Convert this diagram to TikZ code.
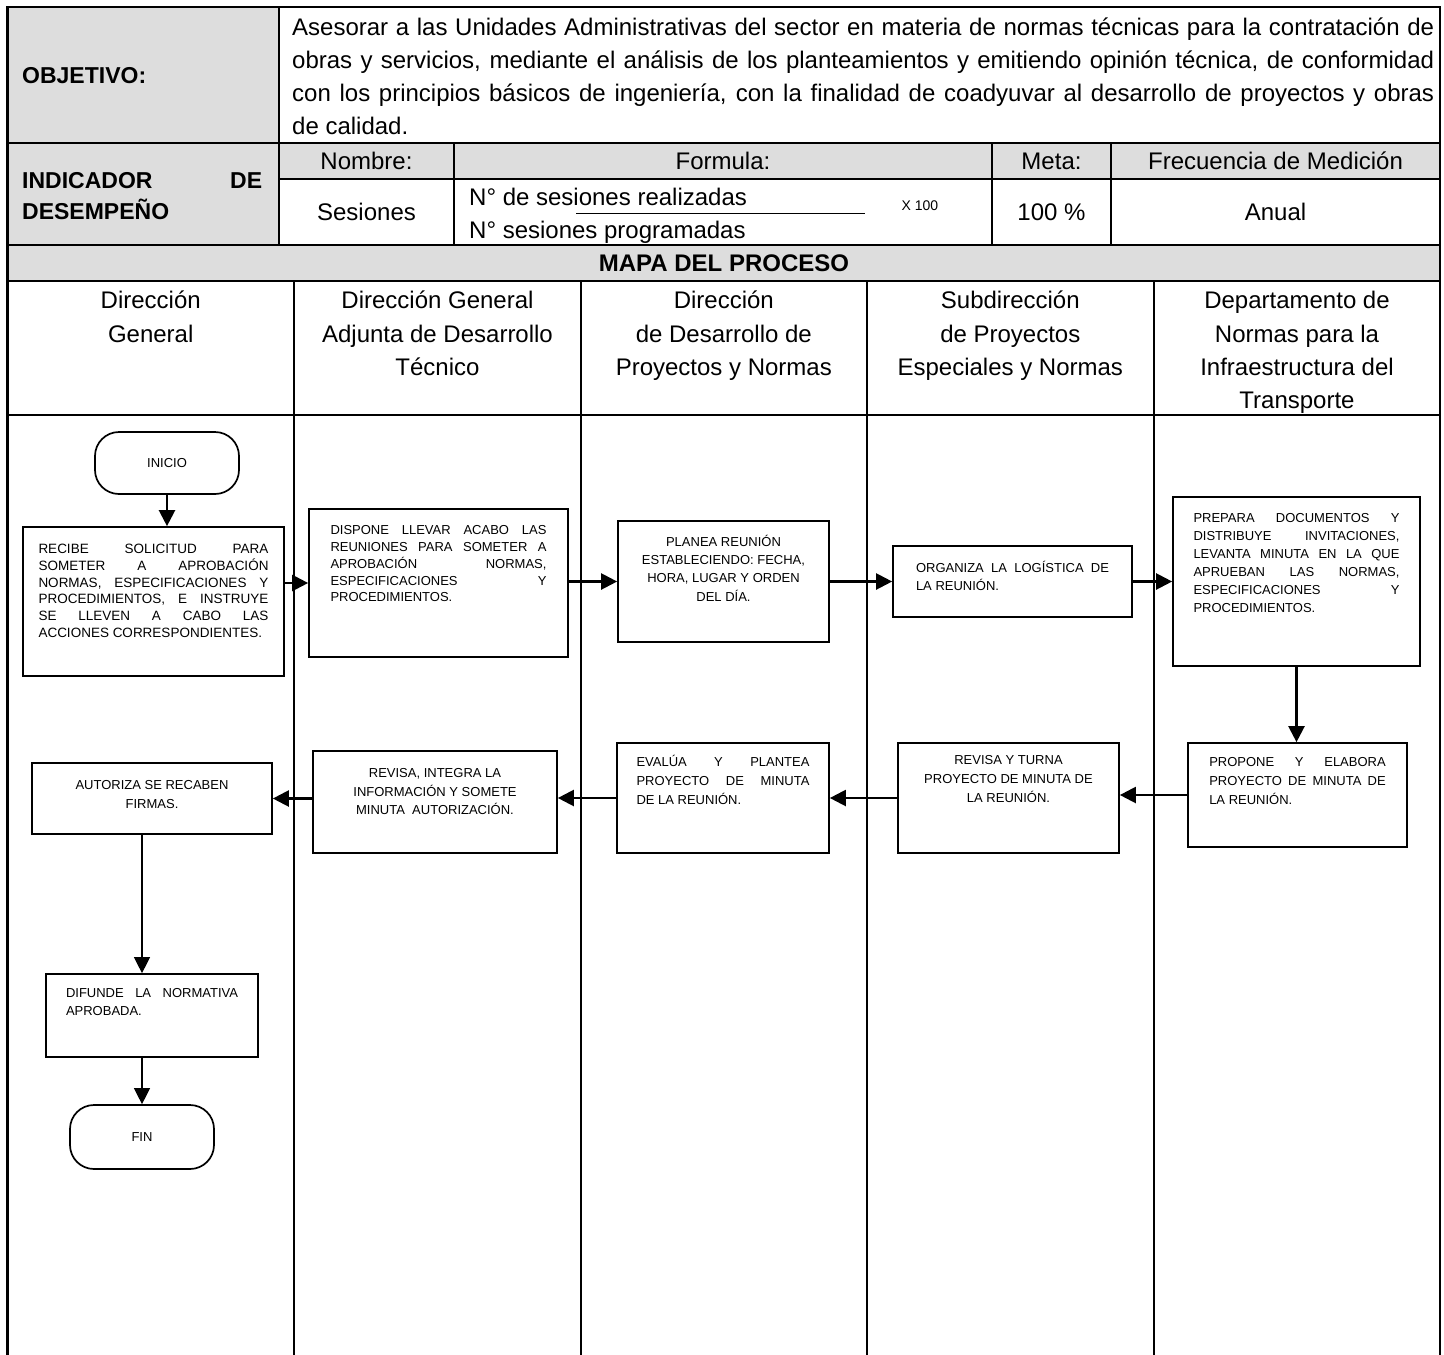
\documentclass[tikz,border=0pt]{standalone}
\usepackage{fontspec}
\setmainfont{Liberation Sans}
\usetikzlibrary{arrows.meta}
\definecolor{gristabla}{RGB}{221,221,221}
\tolerance=10000 \hbadness=10000 \hyphenpenalty=10000 \exhyphenpenalty=10000
\newcommand{\paso}[4][24pt]{\parbox[c][#3][t]{#2}{\rule{0pt}{#1}#4}}
\begin{document}
\begin{tikzpicture}[x=1pt, y=-1pt, >={Triangle[length=16pt,width=16pt]},
    linea/.style={line width=2.4pt},
    hdr/.style={anchor=base, inner sep=0pt, font=\fontsize{24}{28}\selectfont},
    carril/.style={anchor=north, inner sep=0pt, align=center, font=\fontsize{24}{33.3}\selectfont},
    stepbox/.style={draw, line width=1.7pt, inner ysep=0pt, font=\fontsize{13}{18}\selectfont},
    terminal/.style={draw, line width=1.7pt, rounded corners=24pt, minimum width=144pt, minimum height=62pt, inner sep=0pt, font=\fontsize{13}{15}\selectfont},
    flecha/.style={->, line width=2.3pt}]
    \useasboundingbox (0,0) rectangle (1444,1355);
    % tabla de encabezado
    \fill[gristabla] (7.5,7) rectangle (279,245);
    \fill[gristabla] (279,143) rectangle (1440,179);
    \fill[gristabla] (7.5,245) rectangle (1440,281);
    \draw[linea] (7.5,1355) -- (7.5,7) -- (1440,7) -- (1440,1355);
    \foreach \y in {143,245,281,415} \draw[linea] (7.5,\y) -- (1440,\y);
    \draw[linea] (279,179) -- (1440,179);
    \draw[linea] (279,7) -- (279,245);
    \foreach \x in {454,992,1111} \draw[linea] (\x,143) -- (\x,245);
    \foreach \x in {294,581,866.7,1154} \draw[linea] (\x,281) -- (\x,1355);

    \node[anchor=base west, inner sep=0pt, font=\bfseries\fontsize{23}{28}\selectfont] (objlbl) at (22,83.2) {OBJETIVO:};
    \node[anchor=north west, inner sep=0pt, text width=1142pt, align=justify, font=\fontsize{24}{33}\selectfont] (objtxt) at (292,10) {\rule{0pt}{25pt}Asesorar a las Unidades Administrativas del sector en materia de normas técnicas para la contratación de\linebreak obras y servicios, mediante el análisis de los planteamientos y emitiendo opinión técnica, de conformidad\linebreak con los principios básicos de ingeniería, con la finalidad de coadyuvar al desarrollo de proyectos y obras\linebreak de calidad.};
    \node[anchor=north west, inner sep=0pt, text width=240pt, align=justify, font=\bfseries\fontsize{23}{31}\selectfont] (indtxt) at (22,166.5) {\rule{0pt}{22pt}INDICADOR DE\linebreak DESEMPEÑO};
    \node[hdr] (nombre) at (366.5,169.5) {Nombre:};
    \node[hdr] (formula) at (723,169.5) {Formula:};
    \node[hdr] (meta) at (1051.5,169.5) {Meta:};
    \node[hdr] (frec) at (1275.5,169.5) {Frecuencia de Medición};
    \node[hdr] (sesiones) at (366.5,220) {Sesiones};
    \node[hdr, anchor=base west] (num) at (469,205) {N° de sesiones realizadas};
    \node[hdr, anchor=base west] (den) at (469,238.5) {N° sesiones programadas};
    \draw[line width=1.5pt] (576,213.5) -- (865,213.5);
    \node[anchor=base, inner sep=0pt, font=\fontsize{14}{16}\selectfont] (por) at (920,210) {X 100};
    \node[hdr] (valmeta) at (1051.5,220) {100 \%};
    \node[hdr] (anual) at (1275.5,220) {Anual};
    \node[anchor=base, inner sep=0pt, font=\bfseries\fontsize{24}{28}\selectfont] (mapa) at (724,271) {MAPA DEL PROCESO};

    % carriles
    \node[carril] (c1) at (150.7,284.5) {\rule{0pt}{24pt}Dirección\\General};
    \node[carril] (c2) at (437.5,284.5) {\rule{0pt}{24pt}Dirección General\\Adjunta de Desarrollo\\Técnico};
    \node[carril] (c3) at (723.8,284.5) {\rule{0pt}{24pt}Dirección\\de Desarrollo de\\Proyectos y Normas};
    \node[carril] (c4) at (1010.3,284.5) {\rule{0pt}{24pt}Subdirección\\de Proyectos\\Especiales y Normas};
    \node[carril] (c5) at (1297,284.5) {\rule{0pt}{24pt}Departamento de\\Normas para la\\Infraestructura del\\Transporte};

    % pasos
    \node[terminal] (inicio) at (167,463) {INICIO};
    \node[stepbox, inner xsep=15.5pt, font=\fontsize{13.5}{16.7}\selectfont] (recibe) at (153.5,601.5) {\paso[26.7pt]{230pt}{149pt}{RECIBE SOLICITUD PARA\linebreak SOMETER A APROBACIÓN\linebreak NORMAS, ESPECIFICACIONES Y\linebreak PROCEDIMIENTOS, E INSTRUYE\linebreak SE LLEVEN A CABO LAS\linebreak ACCIONES CORRESPONDIENTES.}};
    \node[stepbox, inner xsep=21.5pt, font=\fontsize{13}{16.8}\selectfont] (dispone) at (438.5,583) {\paso[25.7pt]{216pt}{148pt}{DISPONE LLEVAR ACABO LAS\linebreak REUNIONES PARA SOMETER A\linebreak APROBACIÓN NORMAS,\linebreak ESPECIFICACIONES Y\linebreak PROCEDIMIENTOS.}};
    \node[stepbox, inner xsep=10.5pt, font=\fontsize{13}{18.3}\selectfont] (planea) at (723.5,581.5) {\paso[25.3pt]{190pt}{121pt}{\centering PLANEA REUNIÓN\\ESTABLECIENDO: FECHA,\\HORA, LUGAR Y ORDEN\\DEL DÍA.}};
    \node[stepbox, inner xsep=23pt] (organiza) at (1012.5,581.5) {\paso[26.7pt]{193pt}{71pt}{ORGANIZA LA LOGÍSTICA DE\linebreak LA REUNIÓN.}};
    \node[stepbox, inner xsep=20.5pt] (prepara) at (1296.5,581.5) {\paso[25.7pt]{206pt}{169pt}{PREPARA DOCUMENTOS Y\linebreak DISTRIBUYE INVITACIONES,\linebreak LEVANTA MINUTA EN LA QUE\linebreak APRUEBAN LAS NORMAS,\linebreak ESPECIFICACIONES Y\linebreak PROCEDIMIENTOS.}};
    \node[stepbox, inner xsep=21.25pt, font=\fontsize{13}{19}\selectfont] (propone) at (1297.5,795) {\paso[23.7pt]{176.5pt}{104pt}{PROPONE Y ELABORA\linebreak PROYECTO DE MINUTA DE\linebreak LA REUNIÓN.}};
    \node[stepbox, inner xsep=10.5pt, font=\fontsize{13}{19}\selectfont] (turna) at (1008.5,798) {\paso[21pt]{200pt}{110pt}{\centering REVISA Y TURNA\\PROYECTO DE MINUTA DE\\LA REUNIÓN.}};
    \node[stepbox, inner xsep=19.5pt, font=\fontsize{13}{19}\selectfont] (evalua) at (723,798) {\paso[23.7pt]{173pt}{110pt}{EVALÚA Y PLANTEA\linebreak PROYECTO DE MINUTA\linebreak DE LA REUNIÓN.}};
    \node[stepbox, inner xsep=12pt, font=\fontsize{13}{18.7}\selectfont] (integra) at (435,802) {\paso[26.3pt]{220pt}{102pt}{\centering REVISA, INTEGRA LA\\INFORMACIÓN Y SOMETE\\MINUTA\ \ AUTORIZACIÓN.}};
    \node[stepbox, inner xsep=12pt, font=\fontsize{13}{19}\selectfont] (autoriza) at (152,798.5) {\paso[26.7pt]{216pt}{71pt}{\centering AUTORIZA SE RECABEN\\FIRMAS.}};
    \node[stepbox, inner xsep=20pt, font=\fontsize{13}{18}\selectfont] (difunde) at (152,1015.5) {\paso[23.7pt]{172pt}{83pt}{DIFUNDE LA NORMATIVA\linebreak APROBADA.}};
    \node[terminal, minimum height=64pt] (fin) at (142,1137) {FIN};

    % conectores
    \draw[flecha] (inicio.south) -- (inicio.south |- recibe.north);
    \draw[flecha] (dispone.west -| recibe.east) -- (dispone.west);
    \draw[flecha] (planea.west -| dispone.east) -- (planea.west);
    \draw[flecha] (planea.east) -- (organiza.west);
    \draw[flecha] (organiza.east) -- (organiza.east -| prepara.west);
    \draw[flecha] (prepara.south) -- (prepara.south |- propone.north);
    \draw[flecha] (propone.west) -- (propone.west -| turna.east);
    \draw[flecha] (turna.west) -- (turna.west -| evalua.east);
    \draw[flecha] (evalua.west) -- (evalua.west -| integra.east);
    \draw[flecha] (autoriza.east -| integra.west) -- (autoriza.east);
    \draw[flecha, line width=1.3pt] (fin.north |- autoriza.south) -- (fin.north |- difunde.north);
    \draw[flecha, line width=1.3pt] (fin.north |- difunde.south) -- (fin.north);
\end{tikzpicture}
\end{document}
